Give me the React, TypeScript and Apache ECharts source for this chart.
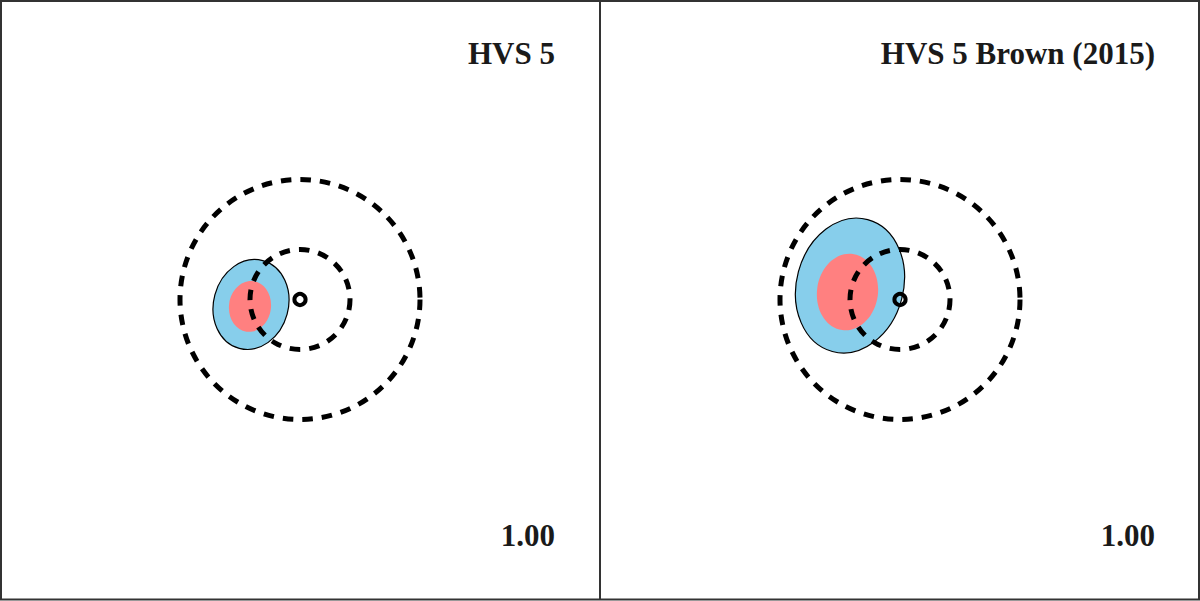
import React, { useEffect, useRef } from "react";
import * as echarts from "echarts";

// Panel titles and annotation
const panelTitles = ["HVS 5", "HVS 5 Brown (2015)"];
const panelValues = ["1.00"];
// Dashed reference circles: [cx, cy, r] (data units)
const dashedCircles = [
  [0, 0, 1.2],
  [0, 0, 0.5],
];
// Marker position per panel
const markers = [[0, 0]];
// Outer (blue) contour ellipses per panel: [cx, cy, rx, ry, tiltDeg]
const blueEllipses = [
  [-0.49, -0.05, 0.374, 0.455, 15],
  [-0.5, 0.14, 0.534, 0.684, 15],
];
// Inner (red) contour ellipses per panel: [cx, cy, rx, ry, tiltDeg]
const redEllipses = [
  [-0.5, -0.07, 0.21, 0.255, 8],
  [-0.525, 0.075, 0.305, 0.385, 8],
];

const FONT = "'Liberation Serif', 'Times New Roman', serif";

function ellipseItem(fill: string, stroke: string | null, lw: number) {
  return (params: any, api: any) => {
    const c = api.coord([api.value(0), api.value(1)]);
    const s = api.size([api.value(2), api.value(3)]);
    return {
      type: "ellipse",
      x: c[0],
      y: c[1],
      rotation: (-api.value(4) * Math.PI) / 180,
      shape: { cx: 0, cy: 0, rx: s[0], ry: s[1] },
      style: { fill, stroke: stroke || "none", lineWidth: lw },
    };
  };
}

function circleItem(lineWidth: number, dash: number[] | null) {
  return (params: any, api: any) => {
    const c = api.coord([api.value(0), api.value(1)]);
    const r = api.size([api.value(2), 0])[0];
    return {
      type: "circle",
      shape: { cx: c[0], cy: c[1], r },
      style: { fill: "none", stroke: "#000", lineWidth, lineDash: dash || undefined },
    };
  };
}

export default function App() {
  const ref = useRef<HTMLDivElement>(null);
  useEffect(() => {
    if (!ref.current) return;
    const chart = echarts.init(ref.current, null, { renderer: "svg" });
    const grids: any[] = [];
    const xAxes: any[] = [];
    const yAxes: any[] = [];
    const series: any[] = [];
    const graphics: any[] = [];
    panelTitles.forEach((title, i) => {
      grids.push({ left: i * 600, top: -1, width: 600, height: 600 });
      xAxes.push({ type: "value", gridIndex: i, min: -3, max: 3, show: false });
      yAxes.push({ type: "value", gridIndex: i, min: -3, max: 3, show: false });
      series.push({
        type: "custom",
        xAxisIndex: i,
        yAxisIndex: i,
        clip: false,
        renderItem: ellipseItem("#87ceeb", "#000", 1.2),
        data: [blueEllipses[i]],
        z: 1,
      });
      series.push({
        type: "custom",
        xAxisIndex: i,
        yAxisIndex: i,
        clip: false,
        renderItem: ellipseItem("#ff8080", null, 0),
        data: [redEllipses[i]],
        z: 2,
      });
      series.push({
        type: "custom",
        xAxisIndex: i,
        yAxisIndex: i,
        clip: false,
        renderItem: circleItem(5, [10.5, 9]),
        data: dashedCircles,
        z: 3,
      });
      series.push({
        type: "custom",
        xAxisIndex: i,
        yAxisIndex: i,
        clip: false,
        renderItem: (params: any, api: any) => {
          const c = api.coord([api.value(0), api.value(1)]);
          return {
            type: "circle",
            shape: { cx: c[0], cy: c[1], r: 5.6 },
            style: { fill: "none", stroke: "#000", lineWidth: 4 },
          };
        },
        data: markers,
        z: 4,
      });
      graphics.push({
        type: "text",
        x: i * 600 + 555,
        y: 69,
        style: {
          text: title,
          font: `bold 31px ${FONT}`,
          fill: "#1a1a1a",
          textAlign: "right",
          textVerticalAlign: "bottom",
        },
      });
      graphics.push({
        type: "text",
        x: i * 600 + 555,
        y: 551,
        style: {
          text: panelValues[0],
          font: `bold 31px ${FONT}`,
          fill: "#1a1a1a",
          textAlign: "right",
          textVerticalAlign: "bottom",
        },
      });
    });
    graphics.push({
      type: "rect",
      shape: { x: 1, y: 1, width: 1198, height: 598.5 },
      style: { fill: "none", stroke: "#333", lineWidth: 2 },
    });
    graphics.push({
      type: "line",
      shape: { x1: 600, y1: 0, x2: 600, y2: 600 },
      style: { stroke: "#333", lineWidth: 2 },
    });
    chart.setOption({
      animation: false,
      backgroundColor: "#fff",
      grid: grids,
      xAxis: xAxes,
      yAxis: yAxes,
      series,
      graphic: graphics,
    });
    return () => chart.dispose();
  }, []);
  return (
    <div
      ref={ref}
      style={{ position: "fixed", left: 0, top: 0, width: 1200, height: 601 }}
    />
  );
}
